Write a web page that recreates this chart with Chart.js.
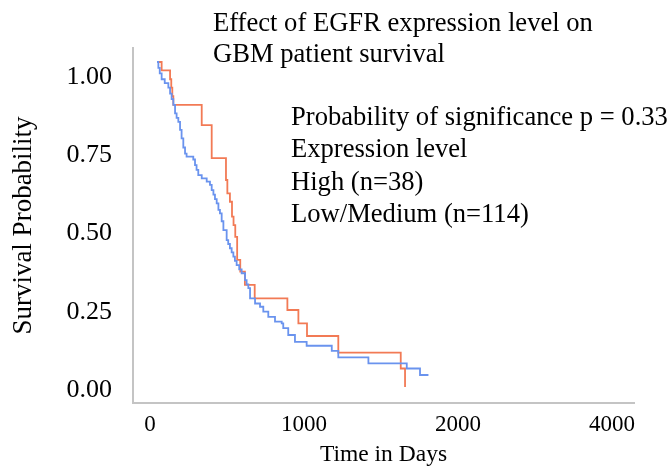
<!DOCTYPE html>
<html>
<head>
<meta charset="utf-8">
<script src="https://cdn.jsdelivr.net/npm/chart.js@4.4.1/dist/chart.umd.min.js"></script>
<style>
  html, body { margin: 0; padding: 0; background: #ffffff; }
  #wrap { width: 671px; height: 472px; position: relative; }
</style>
</head>
<body>
<div id="wrap"><canvas id="km" width="671" height="472"></canvas></div>
<script>
// Kaplan-Meier estimates: day of each step and survival after that step
const highDays = [0, 27, 76, 83, 89, 95, 260, 318, 401, 409, 424, 436, 445, 455, 466, 484, 511, 568, 758, 822, 872, 1054, 1417, 1442];
const highSurv = [1.0, 0.974, 0.947, 0.921, 0.895, 0.868, 0.806, 0.704, 0.637, 0.596, 0.570, 0.524, 0.498, 0.462, 0.391, 0.355, 0.314, 0.273, 0.237, 0.196, 0.157, 0.106, 0.057, 0.0];

const lowDays = [0, 8, 16, 27, 45, 66, 76, 85, 95, 105, 114, 124, 134, 143, 153, 163, 172, 211, 221, 230, 240, 260, 289, 308, 318, 328, 337, 347, 357, 366, 376, 386, 405, 414, 424, 434, 444, 453, 463, 478, 492, 512, 521, 531, 541, 570, 599, 618, 647, 686, 725, 734, 763, 802, 870, 1016, 1054, 1229, 1452, 1529, 1578];
const lowSurv = [1.0, 0.982, 0.965, 0.947, 0.935, 0.921, 0.903, 0.886, 0.868, 0.842, 0.828, 0.816, 0.791, 0.765, 0.737, 0.718, 0.709, 0.700, 0.683, 0.668, 0.652, 0.642, 0.632, 0.622, 0.606, 0.592, 0.578, 0.565, 0.545, 0.534, 0.510, 0.483, 0.452, 0.440, 0.427, 0.414, 0.401, 0.388, 0.375, 0.362, 0.350, 0.329, 0.316, 0.304, 0.273, 0.257, 0.247, 0.232, 0.216, 0.201, 0.196, 0.181, 0.160, 0.139, 0.127, 0.111, 0.091, 0.073, 0.057, 0.037, 0.037];

const yTickValues = [0, 0.25, 0.5, 0.75, 1.0];
const xTickLabels = ['0', '1000', '2000', '4000'];

const titleLines = ['Effect of EGFR expression level on', 'GBM patient survival'];
const legendLines = ['Probability of significance p = 0.33', 'Expression level', 'High (n=38)', 'Low/Medium (n=114)'];

const SERIF = '"Liberation Serif", "Times New Roman", serif';
const INK = '#000000';
const AXIS_GREY = '#c4c4c4';

const toPoints = (days, surv) => days.map((d, i) => ({ x: d, y: surv[i] }));

// Title and annotation block drawn over the plot
const textBlock = {
  id: 'textBlock',
  afterDraw(chart) {
    const ctx = chart.ctx;
    ctx.save();
    ctx.fillStyle = INK;
    ctx.textAlign = 'left';
    ctx.textBaseline = 'alphabetic';
    ctx.font = '26.6px ' + SERIF;
    titleLines.forEach((t, i) => ctx.fillText(t, 213, 31 + i * 31));
    legendLines.forEach((t, i) => ctx.fillText(t, 291, 125 + i * 32.3));
    ctx.restore();
  }
};

new Chart(document.getElementById('km'), {
  type: 'line',
  data: {
    datasets: [
      {
        label: 'Low/Medium (n=114)',
        data: toPoints(lowDays, lowSurv),
        borderColor: '#6a93ee',
        borderWidth: 1.8,
        stepped: 'before',
        pointRadius: 0,
        fill: false,
        xAxisID: 'x',
        yAxisID: 'y'
      },
      {
        label: 'High (n=38)',
        data: toPoints(highDays, highSurv),
        borderColor: '#f27a55',
        borderWidth: 1.8,
        stepped: 'before',
        pointRadius: 0,
        fill: false,
        xAxisID: 'x',
        yAxisID: 'y'
      }
    ]
  },
  options: {
    responsive: false,
    animation: false,
    devicePixelRatio: 1,
    layout: { padding: { top: 48, right: 37, left: 0, bottom: 0 } },
    plugins: {
      legend: { display: false },
      title: { display: false },
      tooltip: { enabled: false }
    },
    scales: {
      // data scales (values in days / survival probability)
      x: { type: 'linear', display: false, min: -139.5, max: 2773 },
      y: { type: 'linear', display: false, min: -0.0492, max: 1.0431 },
      // labelled axes
      xLab: {
        type: 'linear',
        position: 'bottom',
        min: -0.11,
        max: 3.143,
        afterBuildTicks: s => { s.ticks = xTickLabels.map((_, i) => ({ value: i })); },
        afterFit: s => { s.height = 69; },
        ticks: {
          autoSkip: false,
          maxRotation: 0,
          padding: 8,
          color: INK,
          font: { family: SERIF, size: 23 },
          callback: (v, i) => xTickLabels[i]
        },
        grid: { drawOnChartArea: false, drawTicks: false },
        border: { color: AXIS_GREY, width: 2 },
        title: {
          display: true,
          text: 'Time in Days',
          color: INK,
          font: { family: SERIF, size: 23.5 },
          padding: { top: 0, bottom: 3 }
        }
      },
      yLab: {
        type: 'linear',
        position: 'left',
        min: -0.0415,
        max: 1.0927,
        afterBuildTicks: s => { s.ticks = yTickValues.map(v => ({ value: v })); },
        afterFit: s => { s.width = 133; },
        ticks: {
          padding: 21,
          color: INK,
          font: { family: SERIF, size: 26 },
          callback: v => Number(v).toFixed(2)
        },
        grid: { drawOnChartArea: false, drawTicks: false },
        border: { color: AXIS_GREY, width: 2 },
        title: {
          display: true,
          text: 'Survival Probability',
          color: INK,
          font: { family: SERIF, size: 27 },
          padding: { top: 8, bottom: 0 }
        }
      }
    }
  },
  plugins: [textBlock]
});
</script>
</body>
</html>
